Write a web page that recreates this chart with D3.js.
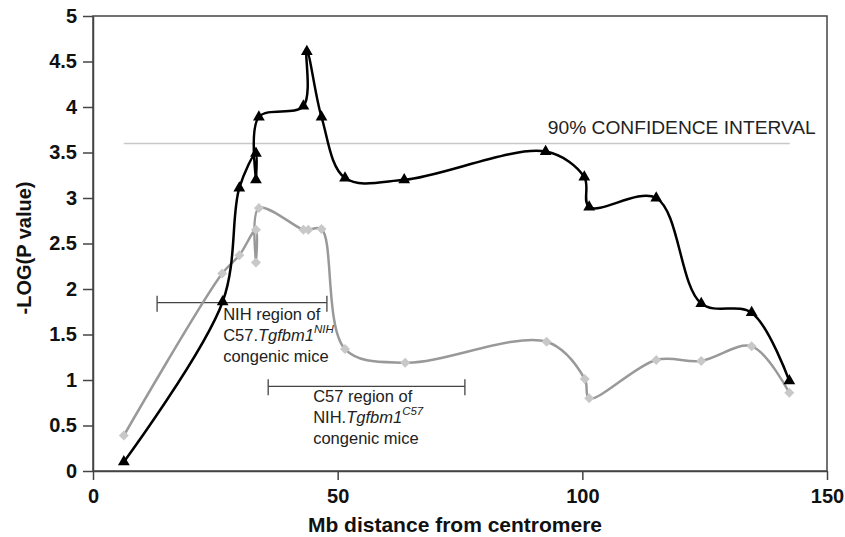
<!DOCTYPE html>
<html>
<head>
<meta charset="utf-8">
<script src="https://cdn.jsdelivr.net/npm/d3@7"></script>
<style>
  body { margin: 0; background: #fff; }
  svg { font-family: "Liberation Sans", Arial, sans-serif; }
</style>
</head>
<body>
<svg id="chart"></svg>
<script>
// black series (triangles)
const blackMb = [6.3, 26.5, 29.9, 33.3, 33.3, 33.9, 43.0, 43.7, 46.7, 51.5, 63.6, 92.5, 100.4, 101.4, 115.1, 124.3, 134.6, 142.3];
const blackLogP = [0.10, 1.86, 3.11, 3.49, 3.20, 3.89, 4.01, 4.61, 3.89, 3.22, 3.20, 3.51, 3.23, 2.90, 3.00, 1.84, 1.74, 0.99];

// grey series (diamonds)
const greyMb = [6.3, 26.4, 29.9, 33.3, 33.3, 33.9, 43.0, 44.0, 46.7, 51.5, 63.8, 92.7, 100.5, 101.4, 115.1, 124.3, 134.6, 142.3];
const greyLogP = [0.39, 2.17, 2.37, 2.65, 2.29, 2.89, 2.65, 2.65, 2.66, 1.34, 1.19, 1.42, 1.01, 0.80, 1.22, 1.21, 1.37, 0.86];

// 90% confidence threshold
const ciValue = 3.6;
const ciRange = [6.3, 142.4];
const ciLabel = '90% CONFIDENCE INTERVAL';

// congenic regions (Mb)
const nihRegion = [13.1, 47.8];
const c57Region = [35.8, 76.0];

const xTicks = [0, 50, 100, 150];
const yTicks = [0, 0.5, 1, 1.5, 2, 2.5, 3, 3.5, 4, 4.5, 5];

const width = 845, height = 537;
const plot = { left: 93, right: 827, top: 16, bottom: 471 };

const svg = d3.select('#chart')
  .attr('width', width)
  .attr('height', height);

const x = d3.scaleLinear().domain([0, 150]).range([plot.left, plot.right]);
const y = d3.scaleLinear().domain([0, 5]).range([plot.bottom, plot.top]);

// frame
svg.append('rect')
  .attr('x', plot.left).attr('y', plot.top)
  .attr('width', plot.right - plot.left)
  .attr('height', plot.bottom - plot.top)
  .attr('fill', 'none')
  .attr('stroke', '#444')
  .attr('stroke-width', 1.5);

// axes
const xAxis = svg.append('g')
  .attr('transform', `translate(0,${plot.bottom})`)
  .call(d3.axisBottom(x).tickValues(xTicks).tickSize(9).tickPadding(9).tickSizeOuter(0));
const yAxis = svg.append('g')
  .attr('transform', `translate(${plot.left},0)`)
  .call(d3.axisLeft(y).tickValues(yTicks).tickFormat(d => String(d)).tickSize(10).tickPadding(6).tickSizeOuter(0));

[xAxis, yAxis].forEach(g => {
  g.select('.domain').attr('stroke', '#444').attr('stroke-width', 1.5);
  g.selectAll('.tick line').attr('stroke', '#444').attr('stroke-width', 1.5);
  g.selectAll('.tick text')
    .attr('fill', '#111')
    .style('font-family', '"Liberation Sans", Arial, sans-serif')
    .style('font-weight', 'bold')
    .style('font-size', '20px');
});

// axis titles
svg.append('text')
  .attr('transform', `translate(31,248) rotate(-90)`)
  .attr('text-anchor', 'middle')
  .attr('font-weight', 'bold')
  .attr('font-size', 20)
  .attr('fill', '#111')
  .text('-LOG(P value)');

svg.append('text')
  .attr('x', (plot.left + plot.right) / 2 - 5)
  .attr('y', 532)
  .attr('text-anchor', 'middle')
  .attr('font-weight', 'bold')
  .attr('font-size', 21)
  .attr('fill', '#111')
  .text('Mb distance from centromere');

// confidence line
svg.append('line')
  .attr('x1', x(ciRange[0])).attr('x2', x(ciRange[1]))
  .attr('y1', y(ciValue)).attr('y2', y(ciValue))
  .attr('stroke', '#c8c8c8')
  .attr('stroke-width', 1.5);

svg.append('text')
  .attr('x', x(ciRange[1]) + 26)
  .attr('y', y(ciValue) - 9)
  .attr('text-anchor', 'end')
  .attr('font-size', 19.2)
  .attr('fill', '#222')
  .text(ciLabel);

// region brackets
function bracket(range, level) {
  const g = svg.append('g').attr('stroke', '#444').attr('stroke-width', 1.3);
  g.append('line')
    .attr('x1', x(range[0])).attr('x2', x(range[1]))
    .attr('y1', y(level)).attr('y2', y(level));
  range.forEach(v => {
    g.append('line')
      .attr('x1', x(v)).attr('x2', x(v))
      .attr('y1', y(level) - 7).attr('y2', y(level) + 9);
  });
}
bracket(nihRegion, 1.85);
bracket(c57Region, 0.93);

function regionLabel(xMb, yVal, first, prefix, sup) {
  const x0 = x(xMb), y0 = y(yVal), lh = 21;
  const g = svg.append('g').attr('fill', '#222').attr('font-size', 16.5);
  g.append('text').attr('x', x0).attr('y', y0).text(first);
  const t2 = g.append('text').attr('x', x0).attr('y', y0 + lh);
  t2.append('tspan').text(prefix);
  t2.append('tspan').attr('font-style', 'italic').text('Tgfbm1');
  t2.append('tspan').attr('font-style', 'italic').attr('font-size', 11.5).attr('dy', -8).text(sup);
  g.append('text').attr('x', x0).attr('y', y0 + 2 * lh).text('congenic mice');
}
regionLabel(26.6, 1.66, 'NIH region of', 'C57.', 'NIH');
regionLabel(45.0, 0.76, 'C57 region of', 'NIH.', 'C57');

// series (smoothed like the original spreadsheet lines)
const line = d3.line()
  .x(d => x(d[0]))
  .y(d => y(d[1]))
  .curve(d3.curveCatmullRom.alpha(0.5));

const greyPts = greyMb.map((m, i) => [m, greyLogP[i]]);
const blackPts = blackMb.map((m, i) => [m, blackLogP[i]]);

svg.append('path')
  .datum(greyPts)
  .attr('fill', 'none')
  .attr('stroke', '#999')
  .attr('stroke-width', 2.5)
  .attr('d', line);

svg.append('g').selectAll('path')
  .data(greyPts)
  .join('path')
  .attr('transform', d => `translate(${x(d[0])},${y(d[1])}) rotate(45)`)
  .attr('d', d3.symbol(d3.symbolSquare, 50))
  .attr('fill', '#c8c8c8');

svg.append('path')
  .datum(blackPts)
  .attr('fill', 'none')
  .attr('stroke', '#000')
  .attr('stroke-width', 2.5)
  .attr('d', line);

svg.append('g').selectAll('path')
  .data(blackPts)
  .join('path')
  .attr('transform', d => `translate(${x(d[0])},${y(d[1])})`)
  .attr('d', d3.symbol(d3.symbolTriangle, 60))
  .attr('fill', '#000');
</script>
</body>
</html>
